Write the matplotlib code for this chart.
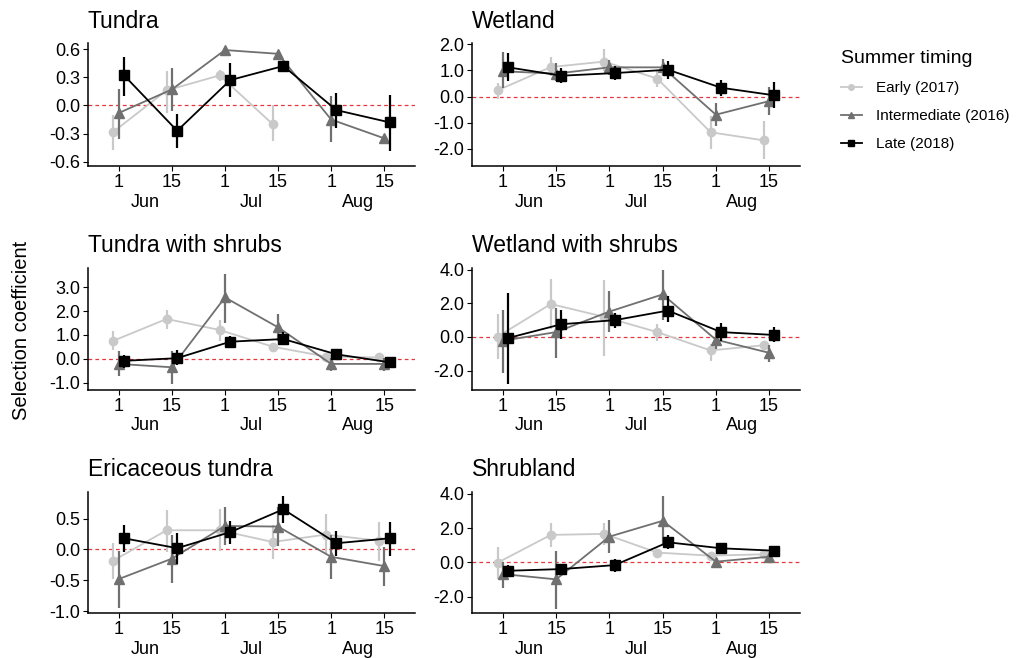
"""Selection coefficients by habitat and summer timing, six panels."""

import matplotlib
matplotlib.use("Agg")
import matplotlib.pyplot as plt
from matplotlib.lines import Line2D
import numpy as np

plt.rcParams["font.family"] = ["Liberation Sans", "DejaVu Sans"]
plt.rcParams["axes.unicode_minus"] = False

# x categories: half-month periods
PERIOD_LABELS = ["1", "15", "1", "15", "1", "15"]
MONTHS = ["Jun", "Jul", "Aug"]

SERIES = ["Early (2017)", "Intermediate (2016)", "Late (2018)"]
COLORS = ["#c9c9c9", "#707070", "#000000"]
MARKERS = ["o", "^", "s"]

# each entry: (estimate, lower, upper); nan = no estimate
TUNDRA_EARLY = [(-0.28, -0.47, -0.10), (0.16, -0.08, 0.37), (0.32, 0.26, 0.38),
                (-0.20, -0.38, 0.0), (np.nan, np.nan, np.nan), (np.nan, np.nan, np.nan)]
TUNDRA_INTER = [(-0.08, -0.36, 0.18), (0.17, -0.06, 0.40), (0.59, 0.57, 0.61),
                (0.55, 0.53, 0.57), (-0.15, -0.39, 0.10), (-0.35, -0.37, -0.33)]
TUNDRA_LATE = [(0.32, 0.10, 0.52), (-0.27, -0.45, -0.09), (0.27, 0.09, 0.45),
               (0.42, 0.39, 0.45), (-0.05, -0.24, 0.13), (-0.18, -0.48, 0.11)]

WETLAND_EARLY = [(0.24, -0.10, 0.53), (1.13, 0.78, 1.53), (1.34, 0.97, 1.81),
                 (0.69, 0.38, 1.03), (-1.36, -1.99, -0.73), (-1.67, -2.40, -0.92)]
WETLAND_INTER = [(0.97, 0.34, 1.72), (0.88, 0.59, 1.28), (1.12, 0.84, 1.41),
                 (1.12, 0.80, 1.45), (-0.69, -1.13, -0.26), (-0.17, -0.70, 0.38)]
WETLAND_LATE = [(1.12, 0.59, 1.68), (0.80, 0.53, 1.09), (0.90, 0.65, 1.18),
                (1.03, 0.69, 1.37), (0.34, 0.02, 0.65), (0.05, -0.45, 0.55)]

TSHRUB_EARLY = [(0.76, 0.38, 1.18), (1.67, 1.25, 2.04), (1.21, 0.76, 1.63),
                (0.51, 0.31, 0.68), (0.10, 0.02, 0.18), (0.06, -0.02, 0.14)]
TSHRUB_INTER = [(-0.21, -0.71, 0.31), (-0.35, -1.04, 0.31), (2.57, 1.51, 3.57),
                (1.32, 0.76, 1.88), (-0.21, -0.49, 0.03), (-0.21, -0.52, 0.03)]
TSHRUB_LATE = [(-0.08, -0.39, 0.17), (0.03, -0.25, 0.38), (0.72, 0.49, 0.96),
               (0.83, 0.58, 1.14), (0.19, -0.01, 0.40), (-0.14, -0.35, 0.10)]

WSHRUB_EARLY = [(0.02, -1.31, 1.35), (1.96, 0.49, 3.45), (1.20, -1.10, 3.39),
                (0.29, -0.22, 0.80), (-0.80, -1.45, -0.43), (-0.49, -0.73, -0.22)]
WSHRUB_INTER = [(-0.22, -2.16, 1.61), (0.29, -1.24, 1.71), (1.51, 0.29, 2.73),
                (2.53, 1.00, 4.00), (-0.16, -0.73, 0.49), (-0.94, -1.51, -0.49)]
WSHRUB_LATE = [(-0.06, -2.82, 2.63), (0.76, -0.12, 1.61), (1.00, 0.53, 1.41),
               (1.57, 0.90, 2.43), (0.29, -0.22, 0.86), (0.12, -0.29, 0.59)]

ERIC_EARLY = [(-0.18, -0.48, 0.10), (0.31, -0.04, 0.64), (0.31, -0.03, 0.65),
              (0.12, -0.15, 0.39), (0.24, -0.05, 0.57), (0.14, -0.19, 0.45)]
ERIC_INTER = [(-0.48, -0.95, -0.03), (-0.15, -0.55, 0.24), (0.38, 0.07, 0.68),
              (0.37, 0.05, 0.68), (-0.12, -0.48, 0.23), (-0.27, -0.59, 0.04)]
ERIC_LATE = [(0.18, -0.04, 0.39), (0.02, -0.23, 0.26), (0.28, 0.08, 0.46),
             (0.65, 0.43, 0.87), (0.10, -0.10, 0.30), (0.18, -0.10, 0.45)]

SHRUB_EARLY = [(-0.02, -0.94, 0.92), (1.60, 0.88, 2.32), (1.66, 1.01, 2.32),
               (0.57, 0.47, 0.67), (0.39, 0.29, 0.49), (0.47, 0.37, 0.57)]
SHRUB_INTER = [(-0.68, -1.52, 0.04), (-0.99, -2.69, 0.66), (1.50, 0.53, 2.48),
               (2.42, 1.01, 3.88), (0.04, -0.06, 0.14), (0.33, 0.23, 0.43)]
SHRUB_LATE = [(-0.49, -0.80, -0.16), (-0.39, -0.68, -0.10), (-0.16, -0.55, 0.18),
              (1.17, 0.76, 1.60), (0.82, 0.49, 1.15), (0.68, 0.43, 0.92)]

PANELS = [
    ("Tundra", [TUNDRA_EARLY, TUNDRA_INTER, TUNDRA_LATE],
     [-0.6, -0.3, 0.0, 0.3, 0.6], (-0.645, 0.665)),
    ("Wetland", [WETLAND_EARLY, WETLAND_INTER, WETLAND_LATE],
     [-2, -1, 0, 1, 2], (-2.65, 2.05)),
    ("Tundra with shrubs", [TSHRUB_EARLY, TSHRUB_INTER, TSHRUB_LATE],
     [-1, 0, 1, 2, 3], (-1.3, 3.8)),
    ("Wetland with shrubs", [WSHRUB_EARLY, WSHRUB_INTER, WSHRUB_LATE],
     [-2, 0, 2, 4], (-3.15, 4.1)),
    ("Ericaceous tundra", [ERIC_EARLY, ERIC_INTER, ERIC_LATE],
     [-1.0, -0.5, 0.0, 0.5], (-1.03, 0.93)),
    ("Shrubland", [SHRUB_EARLY, SHRUB_INTER, SHRUB_LATE],
     [-2, 0, 2, 4], (-2.95, 4.1)),
]

W, H = 1028, 658
COL_X = [(88, 415), (472, 800)]
ROW_Y = [(43, 166), (268, 390), (492, 613)]
DODGE = [-0.1, 0.0, 0.1]

fig = plt.figure(figsize=(W / 100, H / 100), dpi=100)

legend_handles = []
for idx, (title, series, yticks, ylim) in enumerate(PANELS):
    (x0, x1), (y0, y1) = COL_X[idx % 2], ROW_Y[idx // 2]
    ax = fig.add_axes([x0 / W, 1 - y1 / H, (x1 - x0) / W, (y1 - y0) / H])

    ax.axhline(0, color="#e8373c", lw=0.9, ls=(0, (3, 2.5)), zorder=1)
    x = np.arange(len(PERIOD_LABELS))
    for s, data in enumerate(series):
        arr = np.array(data, dtype=float)
        est, lo, hi = arr[:, 0], arr[:, 1], arr[:, 2]
        xs = x + DODGE[s]
        ax.vlines(xs, lo, hi, color=COLORS[s], lw=1.6, zorder=2 + s)
        ax.plot(xs, est, color=COLORS[s], lw=1.3, marker=MARKERS[s],
                markersize=6.5 if MARKERS[s] != "o" else 6, zorder=2 + s)
        if idx == 0:
            legend_handles.append(Line2D([], [], color=COLORS[s], lw=1.3,
                                         marker=MARKERS[s], markersize=4))

    ax.set_xlim(-0.58, 5.58)
    ax.set_ylim(*ylim)
    ax.set_yticks(yticks)
    ax.set_yticklabels([f"{v:.1f}" for v in yticks])
    ax.set_xticks(x)
    ax.set_xticklabels(PERIOD_LABELS)
    ax.tick_params(labelsize=13, length=3.5, width=0.8, colors="black", pad=2)
    for side in ("top", "right"):
        ax.spines[side].set_visible(False)
    for side in ("left", "bottom"):
        ax.spines[side].set_linewidth(1.1)

    for m, month in enumerate(MONTHS):
        ax.annotate(month, xy=(2 * m + 0.5, 0), xycoords=("data", "axes fraction"),
                    xytext=(0, -36), textcoords="offset pixels",
                    ha="center", va="center", fontsize=13)
    ax.annotate(title, xy=(0, 1), xycoords="axes fraction",
                xytext=(0, 22), textcoords="offset pixels",
                ha="left", va="center", fontsize=16.5)

fig.text(22 / W, 1 - 330 / H, "Selection coefficient", rotation=90,
         ha="center", va="center", fontsize=14.5)

leg = fig.legend(legend_handles, SERIES, title="Summer timing",
                 loc="upper left", bbox_to_anchor=(841 / W, 1 - 50 / H),
                 frameon=False, fontsize=11, title_fontsize=14,
                 handlelength=1.37, handletextpad=0.9, labelspacing=0.92,
                 borderpad=0, borderaxespad=0, alignment="left")

fig.savefig("out.png", dpi=100)
